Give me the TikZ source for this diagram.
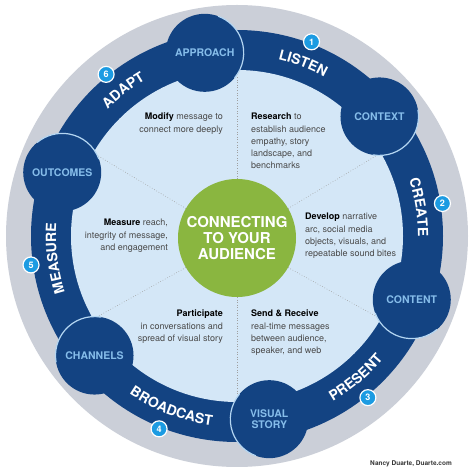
\documentclass[tikz,border=0pt]{standalone}
\usepackage{fontspec}
\setmainfont{TeX Gyre Heros}
\usetikzlibrary{calc}
\usetikzlibrary{decorations.text}
\definecolor{rimgray}{HTML}{CBCFD8}
\definecolor{navy}{HTML}{134382}
\definecolor{paleblue}{HTML}{D4E7F7}
\definecolor{capblue}{HTML}{86BDEA}
\definecolor{hubgreen}{HTML}{8AB640}
\definecolor{badgeblue}{HTML}{1C9BE2}
\definecolor{edgeblue}{HTML}{B4D6F2}
\definecolor{bodygray}{HTML}{4A4A4A}
\tikzset{
  stage/.style={circle, fill=navy, minimum size=78pt, inner sep=0pt, outer sep=0pt,
    text=capblue, font=\fontsize{10.5}{11}\selectfont\bfseries, align=center},
  badge/.style={circle, fill=badgeblue, draw=white, line width=1.2pt, minimum size=16pt,
    inner sep=0pt, text=white, font=\fontsize{9}{9}\selectfont\bfseries},
  rim/.style={edgeblue, line width=1.2pt},
  divider/.style={gray!75, dotted, line width=0.6pt},
  note/.style={inner sep=0pt, text=bodygray, font=\fontsize{9}{12.3}\selectfont},
}
\newcommand{\ringfont}{\fontsize{14}{14}\selectfont\bfseries}
\newcommand{\keyw}[1]{\textcolor{black}{\textbf{#1}}}

\begin{document}
\begin{tikzpicture}[x=1pt,y=1pt]
  \useasboundingbox (0,0) rectangle (474,471);
  \fill[white] (0,0) rectangle (474,471);

  % centre
  \coordinate (O) at (237,235);
  \coordinate (H) at (237,233);

  % discs
  \fill[rimgray] (O) circle (231);
  \fill[navy] (O) circle (206);
  \fill[paleblue] (O) circle (166);

  % dividers
  \coordinate (d1) at ($(O)+(90:166)$);
  \coordinate (d2) at ($(O)+(30:166)$);
  \coordinate (d3) at ($(O)+(-30:166)$);
  \coordinate (d4) at ($(O)+(-90:166)$);
  \coordinate (d5) at ($(O)+(210:166)$);
  \coordinate (d6) at ($(O)+(150:166)$);
  \node[circle, fill=hubgreen, minimum size=118pt, inner sep=0pt, outer sep=0pt,
    text=white, align=center, font=\fontsize{15}{16}\selectfont\bfseries]
    (hub) at (H) {CONNECTING\\TO YOUR\\AUDIENCE};
  \draw[divider] (hub.90) -- (d1);
  \draw[divider] (hub.30) -- (d2);
  \draw[divider] (hub.-30) -- (d3);
  \draw[divider] (hub.-90) -- (d4);
  \draw[divider] (hub.210) -- (d5);
  \draw[divider] (hub.150) -- (d6);

  % stage circles
  \node[stage] (approach) at ($(O)+(100:186)$) {APPROACH};
  \node[stage] (context) at ($(O)+(40:186)$) {CONTEXT};
  \node[stage] (content) at ($(O)+(-20:186)$) {CONTENT};
  \node[stage] (visual) at ($(O)+(-80:186)$) {VISUAL\\STORY};
  \node[stage] (channels) at ($(O)+(220:186)$) {CHANNELS};
  \node[stage] (outcomes) at ($(O)+(160:186)$) {OUTCOMES};

  % light rims
  \draw[rim] (approach.-40) arc[start angle=-40, end angle=70, radius=39];
  \draw[rim] (context.-100) arc[start angle=-100, end angle=10, radius=39];
  \draw[rim] (content.-160) arc[start angle=-160, end angle=-50, radius=39];
  \draw[rim] (visual.140) arc[start angle=140, end angle=250, radius=39];
  \draw[rim] (channels.80) arc[start angle=80, end angle=190, radius=39];
  \draw[rim] (outcomes.20) arc[start angle=20, end angle=130, radius=39];

  % ring labels
  \path[decorate, decoration={text along path, text align=center, text color=white,
    text={|\ringfont|LISTEN}}] ($(O)+(99:181)$) arc[start angle=99, end angle=39, radius=181];
  \path[decorate, decoration={text along path, text align=center, text color=white,
    text={|\ringfont|CREATE}}] ($(O)+(39:181)$) arc[start angle=39, end angle=-21, radius=181];
  \path[decorate, decoration={text along path, text align=center, text color=white,
    text={|\ringfont|PRESENT}}] ($(O)+(-80:191)$) arc[start angle=-80, end angle=-20, radius=191];
  \path[decorate, decoration={text along path, text align=center, text color=white,
    text={|\ringfont|BROADCAST}}] ($(O)+(-141:191)$) arc[start angle=-141, end angle=-81, radius=191];
  \path[decorate, decoration={text along path, text align=center, text color=white,
    text={|\ringfont|MEASURE}}] ($(O)+(217:181)$) arc[start angle=217, end angle=157, radius=181];
  \path[decorate, decoration={text along path, text align=center, text color=white,
    text={|\ringfont|ADAPT}}] ($(O)+(158:181)$) arc[start angle=158, end angle=98, radius=181];

  % badges
  \node[badge] (b1) at ($(O)+(69:208)$) {1};
  \node[badge] (b2) at ($(O)+(9:208)$) {2};
  \node[badge] (b3) at ($(O)+(-51:208)$) {3};
  \node[badge] (b4) at ($(O)+(-112:208)$) {4};
  \node[badge] (b5) at ($(O)+(-172:208)$) {5};
  \node[badge] (b6) at ($(O)+(129:208)$) {6};

  % notes
  \node[note, anchor=north east, align=right] (modify) at (223,358)
    {\keyw{Modify} message to\\connect more deeply};
  \node[note, anchor=north west, align=left] (research) at (251,358)
    {\keyw{Research} to\\establish audience\\empathy, story\\landscape, and\\benchmarks};
  \node[note, anchor=north west, align=left] (develop) at (305,258)
    {\keyw{Develop} narrative\\arc, social media\\objects, visuals, and\\repeatable sound bites};
  \node[note, anchor=north west, align=left] (send) at (251,161)
    {\keyw{Send \& Receive}\\real-time messages\\between audience,\\speaker, and web};
  \node[note, anchor=north east, align=right] (participate) at (223,161)
    {\keyw{Participate}\\in conversations and\\spread of visual story};
  \node[note, anchor=north east, align=right] (measure) at (168,252)
    {\keyw{Measure} reach,\\integrity of message,\\and engagement};

  % credit
  \node[anchor=east, inner sep=0pt, text=black!80, font=\fontsize{6.5}{7}\selectfont\bfseries]
    (credit) at (452,7) {Nancy Duarte, Duarte.com};
\end{tikzpicture}
\end{document}
